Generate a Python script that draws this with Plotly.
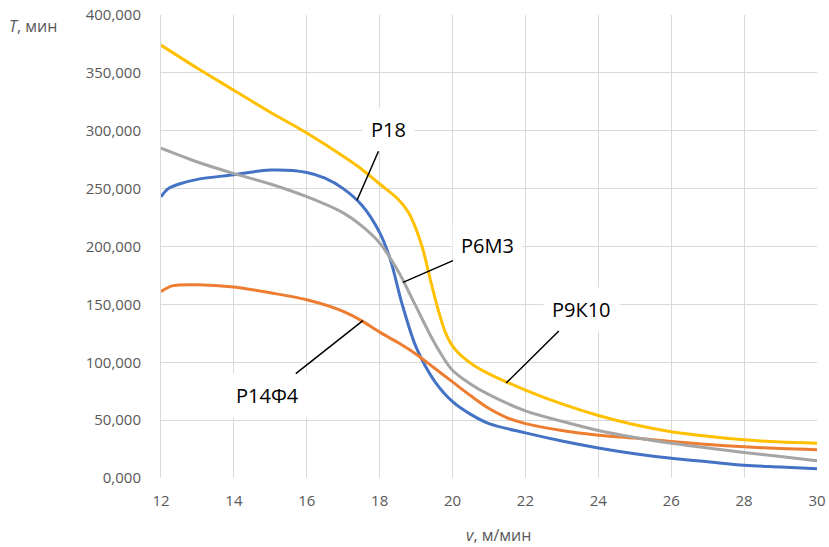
import plotly.graph_objects as go

# ---- data (T, min vs v, m/min) ----
v_r18 = [12, 12.2, 12.5, 13, 14, 15, 16, 16.5, 17, 17.5, 18, 18.3, 18.6, 19, 19.5, 20, 20.5, 21, 22, 23, 24, 25, 26, 27, 28, 29, 30]
t_r18 = [243, 250, 254, 258, 262, 266, 264, 259, 250, 236, 212, 188, 152, 113, 84, 66, 55, 47, 39, 32, 26, 21, 17, 14, 11, 9.5, 8]

v_r6m3 = [12, 13, 14, 15, 16, 17, 17.5, 18, 18.5, 19, 19.5, 20, 20.5, 21, 22, 23, 24, 25, 26, 27, 28, 29, 30]
t_r6m3 = [285, 273, 263, 254, 243, 229, 218, 203, 179, 148, 117, 93, 81, 72, 58, 49, 41, 35, 30, 26, 22, 18.5, 15]

v_r14f4 = [12, 12.3, 13, 14, 15, 16, 17, 17.5, 18, 18.5, 19, 19.5, 20, 20.5, 21, 21.5, 22, 23, 24, 25, 26, 27, 28, 29, 30]
t_r14f4 = [161, 166, 167, 165, 160, 154, 144, 136, 126, 117, 107, 95, 83, 71, 60, 52, 47, 41, 37, 34.5, 31.5, 29, 27, 25.5, 24.5]

v_r9k10 = [12, 13, 14, 15, 16, 17, 17.5, 18, 18.5, 18.8, 19, 19.2, 19.4, 19.6, 19.8, 20, 20.3, 20.6, 21, 22, 23, 24, 25, 26, 27, 28, 29, 30]
t_r9k10 = [374, 354, 335, 316, 298, 278, 267, 254, 241, 229, 215, 196, 170, 146, 126, 114, 104, 97, 90, 76, 64, 54, 46, 40, 36, 33, 31, 30]

series_names = ["Р18", "Р6М3", "Р14Ф4", "Р9К10"]
series_colors = ["#4472C4", "#A5A5A5", "#ED7D31", "#FFC000"]

# label anchor points on curves (v, T) and label offsets, same order as series_names
label_v = [17.38, 18.64, 17.54, 21.47]
label_t = [240, 169, 136, 82]
label_dx = [31, 85, -95, 75]
label_dy = [-71, -37, 75, -74]

fig = go.Figure()
data = [(v_r18, t_r18), (v_r6m3, t_r6m3), (v_r14f4, t_r14f4), (v_r9k10, t_r9k10)]
order = [0, 2, 1, 3]
for i in order:
    xs, ys = data[i]
    fig.add_trace(go.Scatter(
        x=xs, y=ys, mode="lines", name=series_names[i],
        line=dict(color=series_colors[i], width=3, shape="spline", smoothing=0.9),
        showlegend=False, hoverinfo="skip"))

for name, lv, lt, dx, dy in zip(series_names, label_v, label_t, label_dx, label_dy):
    fig.add_annotation(
        x=lv, y=lt, xref="x", yref="y", text=name,
        showarrow=True, arrowhead=0, arrowwidth=1.5, arrowcolor="#000000",
        ax=dx, ay=dy, standoff=0,
        bgcolor="#FFFFFF", borderpad=8,
        font=dict(family="Open Sans", size=20, color="#000000"))

grid = "#D9D9D9"
tick_font = dict(family="Open Sans", size=15, color="#595959")

fig.update_xaxes(
    range=[12, 30], tick0=12, dtick=2, showgrid=True, gridcolor=grid, gridwidth=1,
    zeroline=False, showline=False, ticks="", tickfont=tick_font,
    ticklabelstandoff=12, automargin=False)
fig.update_yaxes(
    range=[0, 400], tick0=0, dtick=50, tickformat=".3f",
    showgrid=True, gridcolor=grid, gridwidth=1,
    zeroline=False, showline=True, linecolor=grid, linewidth=1,
    ticks="", tickfont=tick_font, ticklabelstandoff=16, automargin=False)

fig.add_annotation(
    xref="paper", yref="paper", x=(7 - 161) / 656, y=(478 - 26) / 463,
    xanchor="left", yanchor="middle", showarrow=False,
    text="<i>T</i>, мин", font=dict(family="Open Sans", size=16, color="#595959"))
fig.add_annotation(
    xref="paper", yref="paper", x=(498 - 161) / 656, y=(478 - 535) / 463,
    xanchor="center", yanchor="middle", showarrow=False,
    text="<i>v</i>, м/мин", font=dict(family="Open Sans", size=16, color="#595959"))

fig.update_layout(
    width=829, height=547,
    margin=dict(l=161, r=12, t=15, b=69),
    paper_bgcolor="#FFFFFF", plot_bgcolor="#FFFFFF",
    separators=", ",
    showlegend=False)

fig.write_html("out.html")
